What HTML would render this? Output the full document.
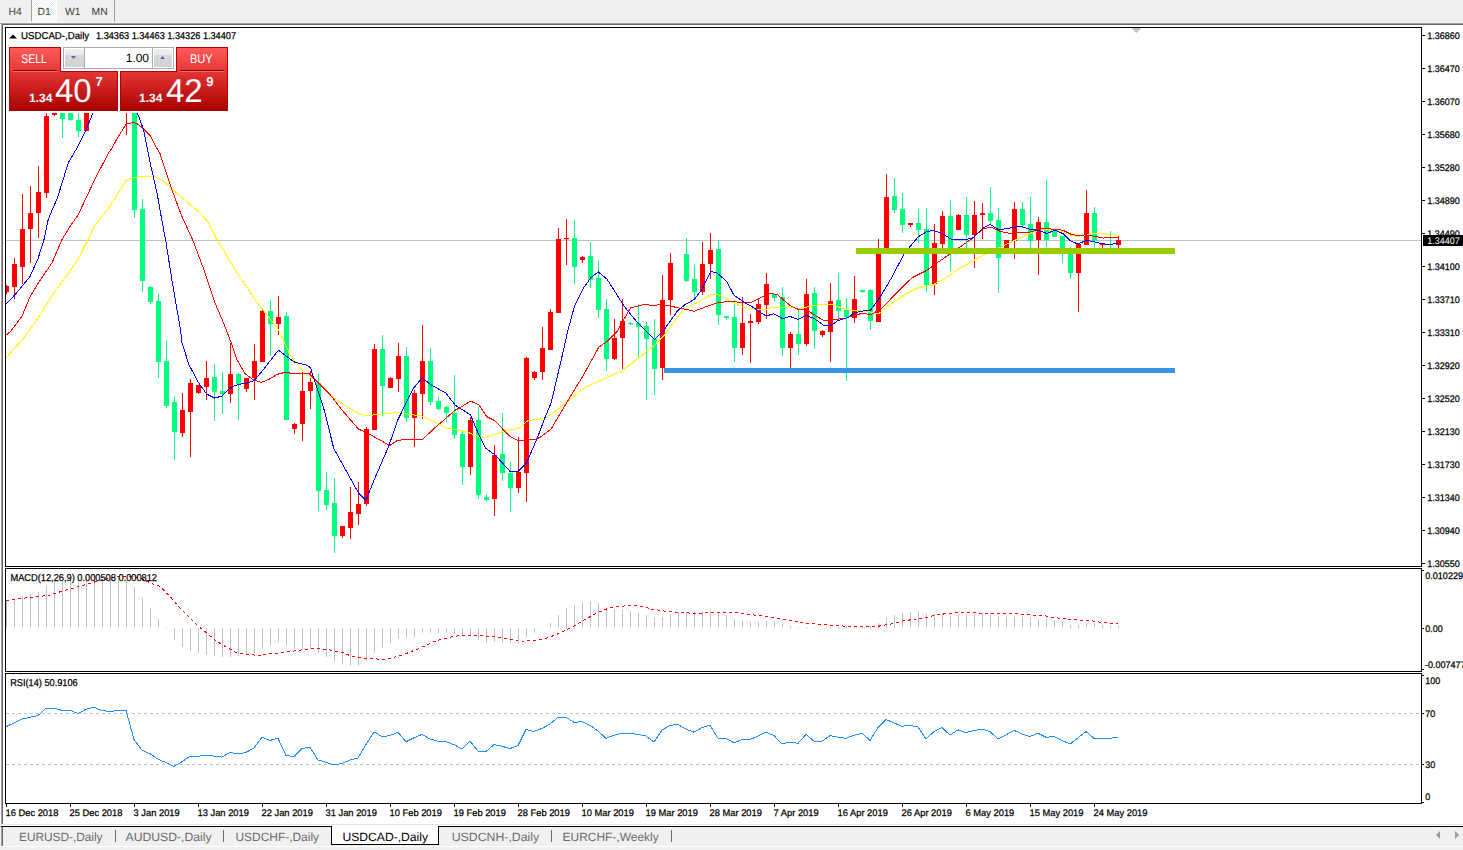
<!DOCTYPE html><html><head><meta charset="utf-8"><title>USDCAD-,Daily</title><style>
html,body{margin:0;padding:0;background:#f0f0f0;overflow:hidden;}
svg{position:absolute;left:0;top:0;display:block;}
text{font-family:"Liberation Sans",sans-serif;text-rendering:geometricPrecision;} .b{stroke:#000;stroke-width:0.25px;}
</style></head><body>
<svg width="1463" height="850" viewBox="0 0 1463 850">
<defs><linearGradient id="rg" x1="0" y1="0" x2="0" y2="1"><stop offset="0" stop-color="#ff5a5a"/><stop offset="1" stop-color="#e53636"/></linearGradient><linearGradient id="rg2" x1="0" y1="0" x2="0" y2="1"><stop offset="0" stop-color="#e43434"/><stop offset="1" stop-color="#aa0000"/></linearGradient><linearGradient id="btn" x1="0" y1="0" x2="0" y2="1"><stop offset="0" stop-color="#f0f0f0"/><stop offset="0.33" stop-color="#e8e8e8"/><stop offset="0.36" stop-color="#d9d9d9"/><stop offset="1" stop-color="#d2d2d2"/></linearGradient><pattern id="chk" x="0" y="0" width="2" height="2" patternUnits="userSpaceOnUse"><rect x="0" y="0" width="2" height="2" fill="#f0f0f0"/><rect x="0" y="0" width="1" height="1" fill="#ffffff"/><rect x="1" y="1" width="1" height="1" fill="#ffffff"/></pattern><clipPath id="cm"><rect x="6" y="28" width="1415" height="538"/></clipPath><clipPath id="cmacd"><rect x="6" y="569" width="1415" height="102"/></clipPath><clipPath id="crsi"><rect x="6" y="674" width="1415" height="129"/></clipPath></defs>
<rect x="0" y="0" width="1463" height="850" fill="#f0f0f0"/>
<rect x="32" y="0" width="25" height="22" fill="#ffffff"/>
<rect x="32" y="0" width="24" height="21" fill="url(#chk)"/>
<rect x="31" y="0" width="1" height="21" fill="#a0a0a0"/>
<rect x="114" y="0" width="1" height="23" fill="#a0a0a0"/>
<text x="8.5" y="15" font-size="10.4" fill="#404040">H4</text>
<text x="37.5" y="15" font-size="10.4" fill="#404040">D1</text>
<text x="65" y="15" font-size="10.4" fill="#404040">W1</text>
<text x="91.5" y="15" font-size="10.4" fill="#404040">MN</text>
<rect x="0" y="22" width="1463" height="1" fill="#f7f7f7"/>
<rect x="0" y="23" width="1463" height="1" fill="#a0a0a0"/>
<rect x="1" y="24" width="1462" height="1" fill="#696969"/>
<rect x="0" y="24" width="1" height="800" fill="#ffffff"/>
<rect x="1" y="23" width="1" height="801" fill="#a0a0a0"/>
<rect x="2" y="24" width="1" height="800" fill="#696969"/>
<rect x="3" y="25" width="1460" height="799" fill="#ffffff"/>
<rect x="0" y="824" width="1463" height="1" fill="#e3e3e3"/>
<rect x="0" y="825" width="1463" height="1" fill="#ffffff"/>
<rect x="1" y="826" width="1462" height="1" fill="#000000"/>
<rect x="1" y="827" width="1" height="19" fill="#a0a0a0"/>
<rect x="2" y="827" width="1" height="19" fill="#696969"/>
<rect x="0" y="846" width="1463" height="1" fill="#ffffff"/>
<rect x="5" y="27" width="1417" height="1" fill="#000"/>
<rect x="5" y="566" width="1417" height="1" fill="#000"/>
<rect x="5" y="27" width="1" height="540" fill="#000"/>
<rect x="1421" y="27" width="1" height="540" fill="#000"/>
<rect x="5" y="568" width="1417" height="1" fill="#000"/>
<rect x="5" y="671" width="1417" height="1" fill="#000"/>
<rect x="5" y="568" width="1" height="104" fill="#000"/>
<rect x="1421" y="568" width="1" height="104" fill="#000"/>
<rect x="5" y="673" width="1417" height="1" fill="#000"/>
<rect x="5" y="803" width="1417" height="1" fill="#000"/>
<rect x="5" y="673" width="1" height="131" fill="#000"/>
<rect x="1421" y="673" width="1" height="131" fill="#000"/>
<g clip-path="url(#cm)">
<rect x="6" y="240" width="1415" height="1" fill="#c0c0c0"/>
<rect x="6" y="285.0" width="1" height="9.0" fill="#ff0000"/>
<rect x="4" y="286.0" width="5" height="6.0" fill="#ff0000"/>
<rect x="14" y="258.0" width="1" height="41.0" fill="#ff0000"/>
<rect x="12" y="264.0" width="5" height="23.0" fill="#ff0000"/>
<rect x="22" y="194.0" width="1" height="90.0" fill="#ff0000"/>
<rect x="20" y="229.0" width="5" height="38.0" fill="#ff0000"/>
<rect x="30" y="186.0" width="1" height="77.0" fill="#ff0000"/>
<rect x="28" y="213.0" width="5" height="16.0" fill="#ff0000"/>
<rect x="38" y="166.0" width="1" height="72.0" fill="#ff0000"/>
<rect x="36" y="192.0" width="5" height="21.0" fill="#ff0000"/>
<rect x="46" y="100.0" width="1" height="98.0" fill="#ff0000"/>
<rect x="44" y="116.0" width="5" height="77.0" fill="#ff0000"/>
<rect x="54" y="113.0" width="1" height="3.0" fill="#ff0000"/>
<rect x="52" y="113.0" width="5" height="2.0" fill="#ff0000"/>
<rect x="62" y="90.0" width="1" height="48.0" fill="#00ff7f"/>
<rect x="60" y="95.0" width="5" height="24.0" fill="#00ff7f"/>
<rect x="70" y="90.0" width="1" height="31.0" fill="#00ff7f"/>
<rect x="68" y="95.0" width="5" height="25.0" fill="#00ff7f"/>
<rect x="78" y="90.0" width="1" height="47.0" fill="#00ff7f"/>
<rect x="76" y="120.0" width="5" height="11.0" fill="#00ff7f"/>
<rect x="86" y="90.0" width="1" height="41.0" fill="#ff0000"/>
<rect x="84" y="95.0" width="5" height="36.0" fill="#ff0000"/>
<rect x="126" y="90.0" width="1" height="45.0" fill="#ff0000"/>
<rect x="124" y="95.0" width="5" height="10.0" fill="#ff0000"/>
<rect x="134" y="90.0" width="1" height="128.0" fill="#00ff7f"/>
<rect x="132" y="95.0" width="5" height="115.0" fill="#00ff7f"/>
<rect x="142" y="199.0" width="1" height="93.0" fill="#00ff7f"/>
<rect x="140" y="209.0" width="5" height="72.0" fill="#00ff7f"/>
<rect x="150" y="286.0" width="1" height="18.0" fill="#00ff7f"/>
<rect x="148" y="287.0" width="5" height="15.0" fill="#00ff7f"/>
<rect x="158" y="294.0" width="1" height="84.0" fill="#00ff7f"/>
<rect x="156" y="301.0" width="5" height="61.0" fill="#00ff7f"/>
<rect x="166" y="340.0" width="1" height="68.0" fill="#00ff7f"/>
<rect x="164" y="361.0" width="5" height="45.0" fill="#00ff7f"/>
<rect x="174" y="396.0" width="1" height="64.0" fill="#00ff7f"/>
<rect x="172" y="402.0" width="5" height="30.0" fill="#00ff7f"/>
<rect x="182" y="393.0" width="1" height="44.0" fill="#ff0000"/>
<rect x="180" y="410.0" width="5" height="23.0" fill="#ff0000"/>
<rect x="190" y="379.0" width="1" height="78.0" fill="#ff0000"/>
<rect x="188" y="383.0" width="5" height="29.0" fill="#ff0000"/>
<rect x="198" y="385.0" width="1" height="9.0" fill="#ff0000"/>
<rect x="196" y="385.0" width="5" height="8.0" fill="#ff0000"/>
<rect x="206" y="361.0" width="1" height="39.0" fill="#ff0000"/>
<rect x="204" y="378.0" width="5" height="9.0" fill="#ff0000"/>
<rect x="214" y="364.0" width="1" height="57.0" fill="#00ff7f"/>
<rect x="212" y="377.0" width="5" height="15.0" fill="#00ff7f"/>
<rect x="222" y="372.0" width="1" height="42.0" fill="#00ff7f"/>
<rect x="220" y="391.0" width="5" height="3.0" fill="#00ff7f"/>
<rect x="230" y="343.0" width="1" height="60.0" fill="#ff0000"/>
<rect x="228" y="374.0" width="5" height="20.0" fill="#ff0000"/>
<rect x="238" y="373.0" width="1" height="47.0" fill="#00ff7f"/>
<rect x="236" y="374.0" width="5" height="10.0" fill="#00ff7f"/>
<rect x="246" y="378.0" width="1" height="14.0" fill="#ff0000"/>
<rect x="244" y="378.0" width="5" height="11.0" fill="#ff0000"/>
<rect x="254" y="344.0" width="1" height="56.0" fill="#ff0000"/>
<rect x="252" y="361.0" width="5" height="17.0" fill="#ff0000"/>
<rect x="262" y="310.0" width="1" height="52.0" fill="#ff0000"/>
<rect x="260" y="311.0" width="5" height="51.0" fill="#ff0000"/>
<rect x="270" y="300.0" width="1" height="56.0" fill="#00ff7f"/>
<rect x="268" y="311.0" width="5" height="13.0" fill="#00ff7f"/>
<rect x="278" y="296.0" width="1" height="39.0" fill="#ff0000"/>
<rect x="276" y="317.0" width="5" height="7.0" fill="#ff0000"/>
<rect x="286" y="312.0" width="1" height="108.0" fill="#00ff7f"/>
<rect x="284" y="316.0" width="5" height="104.0" fill="#00ff7f"/>
<rect x="294" y="423.0" width="1" height="11.0" fill="#ff0000"/>
<rect x="292" y="424.0" width="5" height="5.0" fill="#ff0000"/>
<rect x="302" y="372.0" width="1" height="69.0" fill="#ff0000"/>
<rect x="300" y="391.0" width="5" height="33.0" fill="#ff0000"/>
<rect x="310" y="371.0" width="1" height="38.0" fill="#ff0000"/>
<rect x="308" y="382.0" width="5" height="9.0" fill="#ff0000"/>
<rect x="318" y="374.0" width="1" height="137.0" fill="#00ff7f"/>
<rect x="316" y="383.0" width="5" height="108.0" fill="#00ff7f"/>
<rect x="326" y="472.0" width="1" height="38.0" fill="#00ff7f"/>
<rect x="324" y="490.0" width="5" height="15.0" fill="#00ff7f"/>
<rect x="334" y="478.0" width="1" height="75.0" fill="#00ff7f"/>
<rect x="332" y="503.0" width="5" height="33.0" fill="#00ff7f"/>
<rect x="342" y="526.0" width="1" height="12.0" fill="#ff0000"/>
<rect x="340" y="526.0" width="5" height="10.0" fill="#ff0000"/>
<rect x="350" y="487.0" width="1" height="52.0" fill="#ff0000"/>
<rect x="348" y="512.0" width="5" height="16.0" fill="#ff0000"/>
<rect x="358" y="482.0" width="1" height="43.0" fill="#ff0000"/>
<rect x="356" y="504.0" width="5" height="10.0" fill="#ff0000"/>
<rect x="366" y="427.0" width="1" height="79.0" fill="#ff0000"/>
<rect x="364" y="429.0" width="5" height="75.0" fill="#ff0000"/>
<rect x="374" y="344.0" width="1" height="86.0" fill="#ff0000"/>
<rect x="372" y="349.0" width="5" height="81.0" fill="#ff0000"/>
<rect x="382" y="335.0" width="1" height="81.0" fill="#00ff7f"/>
<rect x="380" y="349.0" width="5" height="37.0" fill="#00ff7f"/>
<rect x="390" y="377.0" width="1" height="11.0" fill="#ff0000"/>
<rect x="388" y="378.0" width="5" height="10.0" fill="#ff0000"/>
<rect x="398" y="343.0" width="1" height="49.0" fill="#ff0000"/>
<rect x="396" y="356.0" width="5" height="23.0" fill="#ff0000"/>
<rect x="406" y="347.0" width="1" height="75.0" fill="#00ff7f"/>
<rect x="404" y="356.0" width="5" height="62.0" fill="#00ff7f"/>
<rect x="414" y="390.0" width="1" height="57.0" fill="#ff0000"/>
<rect x="412" y="393.0" width="5" height="25.0" fill="#ff0000"/>
<rect x="422" y="325.0" width="1" height="94.0" fill="#ff0000"/>
<rect x="420" y="361.0" width="5" height="33.0" fill="#ff0000"/>
<rect x="430" y="348.0" width="1" height="57.0" fill="#00ff7f"/>
<rect x="428" y="361.0" width="5" height="41.0" fill="#00ff7f"/>
<rect x="438" y="397.0" width="1" height="13.0" fill="#00ff7f"/>
<rect x="436" y="401.0" width="5" height="8.0" fill="#00ff7f"/>
<rect x="446" y="406.0" width="1" height="16.0" fill="#00ff7f"/>
<rect x="444" y="407.0" width="5" height="6.0" fill="#00ff7f"/>
<rect x="454" y="375.0" width="1" height="64.0" fill="#00ff7f"/>
<rect x="452" y="413.0" width="5" height="22.0" fill="#00ff7f"/>
<rect x="462" y="431.0" width="1" height="54.0" fill="#00ff7f"/>
<rect x="460" y="434.0" width="5" height="33.0" fill="#00ff7f"/>
<rect x="470" y="417.0" width="1" height="58.0" fill="#ff0000"/>
<rect x="468" y="420.0" width="5" height="47.0" fill="#ff0000"/>
<rect x="478" y="407.0" width="1" height="92.0" fill="#00ff7f"/>
<rect x="476" y="420.0" width="5" height="75.0" fill="#00ff7f"/>
<rect x="486" y="494.0" width="1" height="7.0" fill="#00ff7f"/>
<rect x="484" y="497.0" width="5" height="3.0" fill="#00ff7f"/>
<rect x="494" y="445.0" width="1" height="71.0" fill="#ff0000"/>
<rect x="492" y="455.0" width="5" height="44.0" fill="#ff0000"/>
<rect x="502" y="413.0" width="1" height="68.0" fill="#00ff7f"/>
<rect x="500" y="454.0" width="5" height="19.0" fill="#00ff7f"/>
<rect x="510" y="462.0" width="1" height="50.0" fill="#00ff7f"/>
<rect x="508" y="473.0" width="5" height="15.0" fill="#00ff7f"/>
<rect x="518" y="437.0" width="1" height="56.0" fill="#ff0000"/>
<rect x="516" y="472.0" width="5" height="16.0" fill="#ff0000"/>
<rect x="526" y="357.0" width="1" height="145.0" fill="#ff0000"/>
<rect x="524" y="358.0" width="5" height="115.0" fill="#ff0000"/>
<rect x="534" y="371.0" width="1" height="9.0" fill="#ff0000"/>
<rect x="532" y="372.0" width="5" height="6.0" fill="#ff0000"/>
<rect x="542" y="327.0" width="1" height="53.0" fill="#ff0000"/>
<rect x="540" y="348.0" width="5" height="24.0" fill="#ff0000"/>
<rect x="550" y="309.0" width="1" height="41.0" fill="#ff0000"/>
<rect x="548" y="312.0" width="5" height="38.0" fill="#ff0000"/>
<rect x="558" y="228.0" width="1" height="85.0" fill="#ff0000"/>
<rect x="556" y="239.0" width="5" height="74.0" fill="#ff0000"/>
<rect x="566" y="219.0" width="1" height="46.0" fill="#ff0000"/>
<rect x="564" y="238.0" width="5" height="1.2" fill="#ff0000"/>
<rect x="574" y="220.0" width="1" height="64.0" fill="#00ff7f"/>
<rect x="572" y="238.0" width="5" height="29.0" fill="#00ff7f"/>
<rect x="582" y="256.0" width="1" height="7.0" fill="#ff0000"/>
<rect x="580" y="257.0" width="5" height="3.0" fill="#ff0000"/>
<rect x="590" y="242.0" width="1" height="46.0" fill="#00ff7f"/>
<rect x="588" y="256.0" width="5" height="24.0" fill="#00ff7f"/>
<rect x="598" y="261.0" width="1" height="57.0" fill="#00ff7f"/>
<rect x="596" y="278.0" width="5" height="32.0" fill="#00ff7f"/>
<rect x="606" y="299.0" width="1" height="72.0" fill="#00ff7f"/>
<rect x="604" y="309.0" width="5" height="50.0" fill="#00ff7f"/>
<rect x="614" y="319.0" width="1" height="41.0" fill="#ff0000"/>
<rect x="612" y="338.0" width="5" height="21.0" fill="#ff0000"/>
<rect x="622" y="299.0" width="1" height="70.0" fill="#ff0000"/>
<rect x="620" y="321.0" width="5" height="17.0" fill="#ff0000"/>
<rect x="630" y="322.0" width="1" height="3.0" fill="#00ff7f"/>
<rect x="628" y="323.0" width="5" height="1.2" fill="#00ff7f"/>
<rect x="638" y="304.0" width="1" height="54.0" fill="#00ff7f"/>
<rect x="636" y="323.0" width="5" height="4.0" fill="#00ff7f"/>
<rect x="646" y="322.0" width="1" height="78.0" fill="#00ff7f"/>
<rect x="644" y="326.0" width="5" height="13.0" fill="#00ff7f"/>
<rect x="654" y="319.0" width="1" height="76.0" fill="#00ff7f"/>
<rect x="652" y="339.0" width="5" height="30.0" fill="#00ff7f"/>
<rect x="662" y="275.0" width="1" height="105.0" fill="#ff0000"/>
<rect x="660" y="300.0" width="5" height="68.0" fill="#ff0000"/>
<rect x="670" y="253.0" width="1" height="62.0" fill="#ff0000"/>
<rect x="668" y="263.0" width="5" height="37.0" fill="#ff0000"/>
<rect x="686" y="238.0" width="1" height="44.0" fill="#00ff7f"/>
<rect x="684" y="254.0" width="5" height="27.0" fill="#00ff7f"/>
<rect x="694" y="265.0" width="1" height="34.0" fill="#00ff7f"/>
<rect x="692" y="279.0" width="5" height="13.0" fill="#00ff7f"/>
<rect x="702" y="242.0" width="1" height="53.0" fill="#ff0000"/>
<rect x="700" y="264.0" width="5" height="28.0" fill="#ff0000"/>
<rect x="710" y="233.0" width="1" height="46.0" fill="#ff0000"/>
<rect x="708" y="250.0" width="5" height="14.0" fill="#ff0000"/>
<rect x="718" y="240.0" width="1" height="85.0" fill="#00ff7f"/>
<rect x="716" y="249.0" width="5" height="66.0" fill="#00ff7f"/>
<rect x="726" y="316.0" width="1" height="4.0" fill="#00ff7f"/>
<rect x="724" y="316.0" width="5" height="2.0" fill="#00ff7f"/>
<rect x="734" y="300.0" width="1" height="62.0" fill="#00ff7f"/>
<rect x="732" y="317.0" width="5" height="31.0" fill="#00ff7f"/>
<rect x="742" y="297.0" width="1" height="58.0" fill="#ff0000"/>
<rect x="740" y="323.0" width="5" height="25.0" fill="#ff0000"/>
<rect x="750" y="314.0" width="1" height="49.0" fill="#ff0000"/>
<rect x="748" y="321.0" width="5" height="2.0" fill="#ff0000"/>
<rect x="758" y="299.0" width="1" height="25.0" fill="#ff0000"/>
<rect x="756" y="304.0" width="5" height="18.0" fill="#ff0000"/>
<rect x="766" y="273.0" width="1" height="46.0" fill="#ff0000"/>
<rect x="764" y="284.0" width="5" height="21.0" fill="#ff0000"/>
<rect x="774" y="294.0" width="1" height="7.0" fill="#00ff7f"/>
<rect x="772" y="294.0" width="5" height="4.0" fill="#00ff7f"/>
<rect x="782" y="287.0" width="1" height="69.0" fill="#00ff7f"/>
<rect x="780" y="297.0" width="5" height="51.0" fill="#00ff7f"/>
<rect x="790" y="332.0" width="1" height="36.0" fill="#ff0000"/>
<rect x="788" y="334.0" width="5" height="14.0" fill="#ff0000"/>
<rect x="798" y="309.0" width="1" height="46.0" fill="#00ff7f"/>
<rect x="796" y="334.0" width="5" height="10.0" fill="#00ff7f"/>
<rect x="806" y="279.0" width="1" height="67.0" fill="#ff0000"/>
<rect x="804" y="294.0" width="5" height="50.0" fill="#ff0000"/>
<rect x="814" y="287.0" width="1" height="62.0" fill="#00ff7f"/>
<rect x="812" y="293.0" width="5" height="38.0" fill="#00ff7f"/>
<rect x="822" y="330.0" width="1" height="7.0" fill="#ff0000"/>
<rect x="820" y="331.0" width="5" height="4.0" fill="#ff0000"/>
<rect x="830" y="283.0" width="1" height="79.0" fill="#ff0000"/>
<rect x="828" y="301.0" width="5" height="31.0" fill="#ff0000"/>
<rect x="838" y="273.0" width="1" height="46.0" fill="#00ff7f"/>
<rect x="836" y="300.0" width="5" height="11.0" fill="#00ff7f"/>
<rect x="846" y="298.0" width="1" height="83.0" fill="#00ff7f"/>
<rect x="844" y="310.0" width="5" height="7.0" fill="#00ff7f"/>
<rect x="854" y="276.0" width="1" height="47.0" fill="#ff0000"/>
<rect x="852" y="299.0" width="5" height="19.0" fill="#ff0000"/>
<rect x="862" y="290.0" width="1" height="3.0" fill="#00ff7f"/>
<rect x="860" y="290.0" width="5" height="2.0" fill="#00ff7f"/>
<rect x="870" y="289.0" width="1" height="41.0" fill="#00ff7f"/>
<rect x="868" y="290.0" width="5" height="31.0" fill="#00ff7f"/>
<rect x="878" y="239.0" width="1" height="83.0" fill="#ff0000"/>
<rect x="876" y="250.0" width="5" height="72.0" fill="#ff0000"/>
<rect x="886" y="174.0" width="1" height="76.0" fill="#ff0000"/>
<rect x="884" y="197.0" width="5" height="53.0" fill="#ff0000"/>
<rect x="894" y="178.0" width="1" height="35.0" fill="#00ff7f"/>
<rect x="892" y="196.0" width="5" height="14.0" fill="#00ff7f"/>
<rect x="902" y="193.0" width="1" height="40.0" fill="#00ff7f"/>
<rect x="900" y="209.0" width="5" height="16.0" fill="#00ff7f"/>
<rect x="910" y="223.0" width="1" height="4.0" fill="#ff0000"/>
<rect x="908" y="223.0" width="5" height="2.0" fill="#ff0000"/>
<rect x="918" y="209.0" width="1" height="34.0" fill="#00ff7f"/>
<rect x="916" y="223.0" width="5" height="7.0" fill="#00ff7f"/>
<rect x="926" y="208.0" width="1" height="84.0" fill="#00ff7f"/>
<rect x="924" y="229.0" width="5" height="56.0" fill="#00ff7f"/>
<rect x="934" y="224.0" width="1" height="71.0" fill="#ff0000"/>
<rect x="932" y="243.0" width="5" height="41.0" fill="#ff0000"/>
<rect x="942" y="211.0" width="1" height="37.0" fill="#ff0000"/>
<rect x="940" y="216.0" width="5" height="28.0" fill="#ff0000"/>
<rect x="950" y="200.0" width="1" height="71.0" fill="#00ff7f"/>
<rect x="948" y="216.0" width="5" height="34.0" fill="#00ff7f"/>
<rect x="958" y="214.0" width="1" height="16.0" fill="#ff0000"/>
<rect x="956" y="215.0" width="5" height="15.0" fill="#ff0000"/>
<rect x="966" y="197.0" width="1" height="52.0" fill="#00ff7f"/>
<rect x="964" y="215.0" width="5" height="20.0" fill="#00ff7f"/>
<rect x="974" y="201.0" width="1" height="67.0" fill="#ff0000"/>
<rect x="972" y="215.0" width="5" height="20.0" fill="#ff0000"/>
<rect x="982" y="203.0" width="1" height="36.0" fill="#ff0000"/>
<rect x="980" y="213.0" width="5" height="2.0" fill="#ff0000"/>
<rect x="990" y="187.0" width="1" height="38.0" fill="#00ff7f"/>
<rect x="988" y="213.0" width="5" height="8.0" fill="#00ff7f"/>
<rect x="998" y="208.0" width="1" height="85.0" fill="#00ff7f"/>
<rect x="996" y="220.0" width="5" height="38.0" fill="#00ff7f"/>
<rect x="1006" y="240.0" width="1" height="10.0" fill="#ff0000"/>
<rect x="1004" y="240.0" width="5" height="10.0" fill="#ff0000"/>
<rect x="1014" y="202.0" width="1" height="57.0" fill="#ff0000"/>
<rect x="1012" y="209.0" width="5" height="32.0" fill="#ff0000"/>
<rect x="1022" y="202.0" width="1" height="26.0" fill="#00ff7f"/>
<rect x="1020" y="209.0" width="5" height="16.0" fill="#00ff7f"/>
<rect x="1030" y="197.0" width="1" height="51.0" fill="#00ff7f"/>
<rect x="1028" y="224.0" width="5" height="17.0" fill="#00ff7f"/>
<rect x="1038" y="217.0" width="1" height="58.0" fill="#ff0000"/>
<rect x="1036" y="222.0" width="5" height="18.0" fill="#ff0000"/>
<rect x="1046" y="180.0" width="1" height="67.0" fill="#00ff7f"/>
<rect x="1044" y="222.0" width="5" height="18.0" fill="#00ff7f"/>
<rect x="1054" y="229.0" width="1" height="8.0" fill="#00ff7f"/>
<rect x="1052" y="229.0" width="5" height="8.0" fill="#00ff7f"/>
<rect x="1062" y="236.0" width="1" height="27.0" fill="#00ff7f"/>
<rect x="1060" y="236.0" width="5" height="14.0" fill="#00ff7f"/>
<rect x="1070" y="247.0" width="1" height="32.0" fill="#00ff7f"/>
<rect x="1068" y="250.0" width="5" height="23.0" fill="#00ff7f"/>
<rect x="1078" y="243.0" width="1" height="69.0" fill="#ff0000"/>
<rect x="1076" y="244.0" width="5" height="29.0" fill="#ff0000"/>
<rect x="1086" y="190.0" width="1" height="55.0" fill="#ff0000"/>
<rect x="1084" y="213.0" width="5" height="32.0" fill="#ff0000"/>
<rect x="1094" y="207.0" width="1" height="41.0" fill="#00ff7f"/>
<rect x="1092" y="213.0" width="5" height="28.0" fill="#00ff7f"/>
<rect x="1102" y="244.0" width="1" height="4.0" fill="#ff0000"/>
<rect x="1100" y="244.0" width="5" height="1.2" fill="#ff0000"/>
<rect x="1110" y="231.0" width="1" height="17.0" fill="#00ff7f"/>
<rect x="1108" y="244.0" width="5" height="1.2" fill="#00ff7f"/>
<rect x="1118" y="236.0" width="1" height="12.0" fill="#ff0000"/>
<rect x="1116" y="240.0" width="5" height="5.0" fill="#ff0000"/>
<g fill="none" stroke-width="1" shape-rendering="crispEdges">
<polyline points="6.0,358.0 22.0,340.0 29.0,331.0 38.0,318.0 54.0,292.9 70.0,271.0 78.0,259.4 88.0,239.6 94.0,226.6 98.4,221.0 103.0,215.0 110.7,205.5 125.8,180.9 134.0,177.5 143.5,176.1 154.5,176.8 164.0,181.6 177.7,193.9 200.0,213.0 208.0,221.8 217.6,240.6 236.7,272.4 257.2,302.5 277.7,328.5 284.6,342.8 290.0,354.7 303.7,371.8 317.3,382.0 331.0,395.7 344.7,405.3 358.4,413.5 366.6,415.8 385.7,413.5 399.4,412.1 410.3,414.8 421.2,415.5 445.8,427.8 465.0,431.2 480.0,437.3 486.8,437.2 504.6,431.0 518.3,428.3 527.8,420.8 534.7,419.4 542.9,418.7 551.1,414.6 564.8,403.7 581.8,390.0 583.9,388.0 600.3,380.5 622.2,370.9 637.2,359.0 653.6,346.3 664.6,334.7 671.0,326.0 684.6,307.7 695.5,303.6 710.6,294.8 718.8,294.8 733.8,303.0 748.9,308.4 763.9,309.8 774.8,307.1 794.0,307.7 799.4,308.4 821.3,304.3 832.3,304.3 841.8,308.4 850.0,310.2 867.8,311.5 878.7,313.6 891.0,304.0 904.7,294.4 918.4,287.6 932.0,285.3 945.7,278.0 959.4,268.5 973.0,260.9 986.7,253.4 1000.4,247.2 1014.0,240.7 1030.5,233.1 1041.4,229.7 1054.7,230.2 1062.9,232.2 1071.1,235.6 1077.9,236.3 1093.0,233.6 1103.9,233.6 1112.1,234.9 1117.6,234.3" stroke="#ffff00"/>
<polyline points="5.0,336.0 11.0,331.0 22.0,316.2 30.0,297.0 38.0,283.4 52.0,262.8 62.0,239.6 70.0,226.6 73.8,221.0 78.0,215.0 84.8,200.7 95.7,177.5 109.4,151.5 111.4,149.2 117.1,138.6 126.1,124.2 132.7,122.6 136.8,123.4 141.7,127.1 150.0,135.3 156.5,147.6 160.0,153.5 170.9,187.0 181.3,215.0 193.0,240.6 203.9,269.7 214.8,302.5 224.4,325.0 231.2,342.8 236.7,359.2 244.9,373.5 253.1,379.7 261.3,382.4 269.5,379.0 277.7,374.2 285.9,372.2 290.0,373.1 309.1,373.8 331.0,395.7 342.0,410.0 358.4,429.1 366.6,432.6 389.8,445.5 398.0,440.1 422.6,439.4 434.9,427.8 455.4,410.0 459.5,408.0 470.5,401.2 478.7,404.6 486.8,416.7 495.0,420.8 504.6,431.0 510.0,436.5 518.3,440.6 536.0,439.2 540.2,437.2 551.1,429.0 562.0,410.5 574.3,390.0 583.9,374.3 598.9,347.0 607.1,341.5 616.7,332.0 630.4,308.0 644.0,304.6 652.3,305.3 663.2,304.6 677.8,307.7 694.2,311.2 705.1,307.1 718.8,302.3 731.1,301.6 750.2,303.0 761.2,297.5 770.7,293.1 777.6,294.8 791.2,306.4 799.4,309.8 806.3,309.8 822.7,320.0 832.3,320.0 845.9,318.0 860.9,313.6 871.9,314.3 882.8,307.4 893.7,295.8 907.4,282.1 912.9,277.3 926.6,270.5 938.9,261.6 949.8,254.1 959.4,247.5 973.0,237.9 982.6,229.0 990.8,227.0 1000.4,231.4 1008.6,233.1 1027.7,232.7 1041.4,229.0 1046.5,228.5 1062.9,230.2 1071.1,234.3 1076.6,235.3 1086.1,234.9 1094.3,236.3 1103.9,238.1 1109.4,237.0 1118.3,237.0" stroke="#ff0000"/>
<polyline points="6.2,303.9 14.0,295.7 20.0,288.8 30.0,276.5 38.0,258.7 44.0,239.6 47.8,221.0 50.0,215.0 57.4,198.0 68.4,162.4 76.6,148.7 86.1,129.6 93.0,113.0 100.0,95.0 115.0,85.0 130.0,95.0 137.4,113.0 143.5,129.6 150.4,163.8 157.2,193.9 162.0,221.0 166.0,242.3 172.0,280.6 180.7,331.0 182.0,342.8 188.9,364.6 198.4,382.4 206.6,394.0 214.8,398.1 221.7,396.1 231.2,387.2 238.0,384.5 247.0,383.1 254.5,380.4 264.0,368.7 278.4,350.3 294.1,361.9 307.8,365.6 310.5,367.7 313.2,376.6 324.2,410.0 333.7,448.3 348.8,475.6 358.4,492.7 365.9,500.2 374.8,478.4 388.4,446.9 398.0,419.6 413.0,388.9 422.3,377.6 430.8,384.8 445.8,393.0 455.4,405.3 470.5,414.8 478.7,434.6 485.5,448.1 495.0,454.9 510.0,471.3 518.3,471.3 526.5,463.1 537.4,437.8 545.6,416.0 551.1,403.0 562.0,356.6 567.5,332.0 574.3,306.7 583.9,287.5 590.7,277.9 598.2,271.8 607.1,279.3 616.7,294.3 623.5,305.3 637.2,322.4 654.3,339.5 663.9,329.9 677.8,310.5 684.6,305.0 694.2,299.5 701.0,290.7 710.6,271.5 717.4,273.2 727.0,281.8 733.8,295.0 742.0,300.9 753.0,307.3 758.4,311.2 766.0,316.0 773.5,313.9 783.0,318.7 789.9,316.4 798.0,319.4 806.3,315.5 814.5,318.7 824.0,325.5 830.9,325.5 837.7,320.7 848.7,317.3 854.1,312.8 866.4,310.2 870.5,310.2 880.1,297.2 891.0,278.7 904.0,254.1 910.2,246.4 918.4,236.6 926.6,231.8 933.4,230.4 943.0,233.8 951.2,239.3 964.8,239.6 973.0,237.9 982.6,228.4 990.1,224.3 999.0,230.0 1011.3,227.7 1020.9,226.3 1030.5,229.4 1038.7,230.4 1046.9,233.5 1054.7,230.2 1062.9,233.6 1069.7,240.4 1077.9,244.1 1086.1,240.4 1094.3,241.8 1102.5,243.8 1110.7,244.5 1117.6,243.1" stroke="#0000ff"/>
</g>
<rect x="856" y="248" width="319" height="6" fill="#99cc00"/>
<rect x="664" y="368" width="511" height="5" fill="#3894e2"/>
<polygon points="1131.5,28 1141.5,28 1136.5,33" fill="#c0c0c0"/>
</g>
<polygon points="9,38.5 13,34.5 17,38.5" fill="#000"/>
<text x="21" y="39.3" font-size="10" fill="#000" class="b" textLength="68.2" lengthAdjust="spacingAndGlyphs">USDCAD-,Daily</text>
<text x="96" y="39.3" font-size="10" fill="#000" class="b" textLength="140" lengthAdjust="spacingAndGlyphs">1.34363 1.34463 1.34326 1.34407</text>
<rect x="7" y="45" width="224" height="68" fill="#ffffff"/>
<rect x="9" y="71" width="109" height="40" fill="#b00000"/>
<rect x="10" y="72" width="107" height="39" fill="url(#rg2)"/>
<rect x="120" y="71" width="108" height="40" fill="#b00000"/>
<rect x="121" y="72" width="106" height="39" fill="url(#rg2)"/>
<rect x="9" y="47" width="52" height="25" fill="#b00000"/>
<rect x="10" y="48" width="50" height="24" fill="url(#rg)"/>
<rect x="13" y="70" width="44" height="1" fill="#8a0000"/>
<rect x="13" y="71" width="44" height="1" fill="#f27070"/>
<rect x="176" y="47" width="52" height="25" fill="#b00000"/>
<rect x="177" y="48" width="50" height="24" fill="url(#rg)"/>
<rect x="180" y="70" width="44" height="1" fill="#8a0000"/>
<rect x="180" y="71" width="44" height="1" fill="#f27070"/>
<rect x="63" y="47" width="111" height="22" fill="#a8acb4"/>
<rect x="64" y="48" width="109" height="20" fill="#ffffff"/>
<rect x="65" y="49" width="19" height="18" fill="url(#btn)"/>
<rect x="84" y="48" width="1" height="20" fill="#a8acb4"/>
<rect x="152" y="48" width="1" height="20" fill="#a8acb4"/>
<rect x="154" y="49" width="18" height="18" fill="url(#btn)"/>
<polygon points="71,56 76,56 73.5,59" fill="#5068c0"/>
<polygon points="160,59 165,59 162.5,56" fill="#5068c0"/>
<text x="149" y="62" font-size="12" fill="#000" text-anchor="end">1.00</text>
<text x="21.3" y="63" font-size="12.6" fill="#ffffff" textLength="25.6" lengthAdjust="spacingAndGlyphs">SELL</text>
<text x="189.9" y="63" font-size="12.6" fill="#ffffff" textLength="22.9" lengthAdjust="spacingAndGlyphs">BUY</text>
<text x="29" y="102" font-size="12" font-weight="bold" fill="#ffffff">1.34</text>
<text x="55" y="102" font-size="33" fill="#ffffff">40</text>
<text x="95.5" y="86" font-size="13" font-weight="bold" fill="#ffffff">7</text>
<text x="139" y="102" font-size="12" font-weight="bold" fill="#ffffff">1.34</text>
<text x="166" y="102" font-size="33" fill="#ffffff">42</text>
<text x="206.3" y="86" font-size="13" font-weight="bold" fill="#ffffff">9</text>
<rect x="1422" y="35" width="3" height="1" fill="#000"/>
<text x="1427.3" y="39" font-size="9.5" fill="#000" class="b" textLength="32.5" lengthAdjust="spacingAndGlyphs">1.36860</text>
<rect x="1422" y="68" width="3" height="1" fill="#000"/>
<text x="1427.3" y="72" font-size="9.5" fill="#000" class="b" textLength="32.5" lengthAdjust="spacingAndGlyphs">1.36470</text>
<rect x="1422" y="101" width="3" height="1" fill="#000"/>
<text x="1427.3" y="105" font-size="9.5" fill="#000" class="b" textLength="32.5" lengthAdjust="spacingAndGlyphs">1.36070</text>
<rect x="1422" y="134" width="3" height="1" fill="#000"/>
<text x="1427.3" y="138" font-size="9.5" fill="#000" class="b" textLength="32.5" lengthAdjust="spacingAndGlyphs">1.35680</text>
<rect x="1422" y="167" width="3" height="1" fill="#000"/>
<text x="1427.3" y="171" font-size="9.5" fill="#000" class="b" textLength="32.5" lengthAdjust="spacingAndGlyphs">1.35280</text>
<rect x="1422" y="200" width="3" height="1" fill="#000"/>
<text x="1427.3" y="204" font-size="9.5" fill="#000" class="b" textLength="32.5" lengthAdjust="spacingAndGlyphs">1.34890</text>
<rect x="1422" y="233" width="3" height="1" fill="#000"/>
<text x="1427.3" y="237" font-size="9.5" fill="#000" class="b" textLength="32.5" lengthAdjust="spacingAndGlyphs">1.34490</text>
<rect x="1422" y="266" width="3" height="1" fill="#000"/>
<text x="1427.3" y="270" font-size="9.5" fill="#000" class="b" textLength="32.5" lengthAdjust="spacingAndGlyphs">1.34100</text>
<rect x="1422" y="299" width="3" height="1" fill="#000"/>
<text x="1427.3" y="303" font-size="9.5" fill="#000" class="b" textLength="32.5" lengthAdjust="spacingAndGlyphs">1.33710</text>
<rect x="1422" y="332" width="3" height="1" fill="#000"/>
<text x="1427.3" y="336" font-size="9.5" fill="#000" class="b" textLength="32.5" lengthAdjust="spacingAndGlyphs">1.33310</text>
<rect x="1422" y="365" width="3" height="1" fill="#000"/>
<text x="1427.3" y="369" font-size="9.5" fill="#000" class="b" textLength="32.5" lengthAdjust="spacingAndGlyphs">1.32920</text>
<rect x="1422" y="398" width="3" height="1" fill="#000"/>
<text x="1427.3" y="402" font-size="9.5" fill="#000" class="b" textLength="32.5" lengthAdjust="spacingAndGlyphs">1.32520</text>
<rect x="1422" y="431" width="3" height="1" fill="#000"/>
<text x="1427.3" y="435" font-size="9.5" fill="#000" class="b" textLength="32.5" lengthAdjust="spacingAndGlyphs">1.32130</text>
<rect x="1422" y="464" width="3" height="1" fill="#000"/>
<text x="1427.3" y="468" font-size="9.5" fill="#000" class="b" textLength="32.5" lengthAdjust="spacingAndGlyphs">1.31730</text>
<rect x="1422" y="497" width="3" height="1" fill="#000"/>
<text x="1427.3" y="501" font-size="9.5" fill="#000" class="b" textLength="32.5" lengthAdjust="spacingAndGlyphs">1.31340</text>
<rect x="1422" y="530" width="3" height="1" fill="#000"/>
<text x="1427.3" y="534" font-size="9.5" fill="#000" class="b" textLength="32.5" lengthAdjust="spacingAndGlyphs">1.30940</text>
<rect x="1422" y="563" width="3" height="1" fill="#000"/>
<text x="1427.3" y="567" font-size="9.5" fill="#000" class="b" textLength="32.5" lengthAdjust="spacingAndGlyphs">1.30550</text>
<rect x="1423" y="235" width="40" height="11" fill="#000"/>
<text x="1427.3" y="244.2" font-size="9.5" fill="#fff" textLength="32.5" lengthAdjust="spacingAndGlyphs">1.34407</text>
<g clip-path="url(#cmacd)">
<g fill="#c0c0c0">
<rect x="6" y="600.5" width="1" height="28.0"/>
<rect x="14" y="600.1" width="1" height="28.4"/>
<rect x="22" y="597.0" width="1" height="31.5"/>
<rect x="30" y="594.0" width="1" height="34.5"/>
<rect x="38" y="591.9" width="1" height="36.6"/>
<rect x="46" y="586.0" width="1" height="42.5"/>
<rect x="54" y="581.3" width="1" height="47.2"/>
<rect x="62" y="580.7" width="1" height="47.8"/>
<rect x="70" y="579.5" width="1" height="49.0"/>
<rect x="78" y="577.8" width="1" height="50.7"/>
<rect x="86" y="577.8" width="1" height="50.7"/>
<rect x="94" y="577.0" width="1" height="51.5"/>
<rect x="102" y="577.0" width="1" height="51.5"/>
<rect x="110" y="577.0" width="1" height="51.5"/>
<rect x="118" y="577.0" width="1" height="51.5"/>
<rect x="126" y="579.9" width="1" height="48.6"/>
<rect x="134" y="587.1" width="1" height="41.4"/>
<rect x="142" y="597.9" width="1" height="30.6"/>
<rect x="150" y="608.2" width="1" height="20.3"/>
<rect x="158" y="618.9" width="1" height="9.6"/>
<rect x="166" y="627.8" width="1" height="0.7"/>
<rect x="174" y="628" width="1" height="11.8"/>
<rect x="182" y="628" width="1" height="19.0"/>
<rect x="190" y="628" width="1" height="22.9"/>
<rect x="198" y="628" width="1" height="24.9"/>
<rect x="206" y="628" width="1" height="26.6"/>
<rect x="214" y="628" width="1" height="28.0"/>
<rect x="222" y="628" width="1" height="28.9"/>
<rect x="230" y="628" width="1" height="28.9"/>
<rect x="238" y="628" width="1" height="28.0"/>
<rect x="246" y="628" width="1" height="26.3"/>
<rect x="254" y="628" width="1" height="25.4"/>
<rect x="262" y="628" width="1" height="20.7"/>
<rect x="270" y="628" width="1" height="17.8"/>
<rect x="278" y="628" width="1" height="14.3"/>
<rect x="286" y="628" width="1" height="17.8"/>
<rect x="294" y="628" width="1" height="20.7"/>
<rect x="302" y="628" width="1" height="20.7"/>
<rect x="310" y="628" width="1" height="20.3"/>
<rect x="318" y="628" width="1" height="24.6"/>
<rect x="326" y="628" width="1" height="28.9"/>
<rect x="334" y="628" width="1" height="33.6"/>
<rect x="342" y="628" width="1" height="36.5"/>
<rect x="350" y="628" width="1" height="37.7"/>
<rect x="358" y="628" width="1" height="37.7"/>
<rect x="366" y="628" width="1" height="32.6"/>
<rect x="374" y="628" width="1" height="24.6"/>
<rect x="382" y="628" width="1" height="19.5"/>
<rect x="390" y="628" width="1" height="15.5"/>
<rect x="398" y="628" width="1" height="10.4"/>
<rect x="406" y="628" width="1" height="9.7"/>
<rect x="414" y="628" width="1" height="8.7"/>
<rect x="422" y="628" width="1" height="4.6"/>
<rect x="430" y="628" width="1" height="4.6"/>
<rect x="438" y="628" width="1" height="4.6"/>
<rect x="446" y="628" width="1" height="4.6"/>
<rect x="454" y="628" width="1" height="5.8"/>
<rect x="462" y="628" width="1" height="7.0"/>
<rect x="470" y="628" width="1" height="7.0"/>
<rect x="478" y="628" width="1" height="11.8"/>
<rect x="486" y="628" width="1" height="14.8"/>
<rect x="494" y="628" width="1" height="13.8"/>
<rect x="502" y="628" width="1" height="14.8"/>
<rect x="510" y="628" width="1" height="15.5"/>
<rect x="518" y="628" width="1" height="15.5"/>
<rect x="526" y="628" width="1" height="8.7"/>
<rect x="534" y="628" width="1" height="4.6"/>
<rect x="542" y="628" width="1" height="0.2"/>
<rect x="550" y="623.0" width="1" height="5.5"/>
<rect x="558" y="615.0" width="1" height="13.5"/>
<rect x="566" y="608.2" width="1" height="20.3"/>
<rect x="574" y="605.3" width="1" height="23.2"/>
<rect x="582" y="602.2" width="1" height="26.3"/>
<rect x="590" y="601.3" width="1" height="27.2"/>
<rect x="598" y="603.0" width="1" height="25.5"/>
<rect x="606" y="607.0" width="1" height="21.5"/>
<rect x="614" y="609.0" width="1" height="19.5"/>
<rect x="622" y="609.9" width="1" height="18.6"/>
<rect x="630" y="611.1" width="1" height="17.4"/>
<rect x="638" y="613.0" width="1" height="15.5"/>
<rect x="646" y="615.0" width="1" height="13.5"/>
<rect x="654" y="617.9" width="1" height="10.6"/>
<rect x="662" y="617.0" width="1" height="11.5"/>
<rect x="670" y="614.1" width="1" height="14.4"/>
<rect x="678" y="612.8" width="1" height="15.7"/>
<rect x="686" y="611.6" width="1" height="16.9"/>
<rect x="694" y="612.1" width="1" height="16.4"/>
<rect x="702" y="611.1" width="1" height="17.4"/>
<rect x="710" y="609.9" width="1" height="18.6"/>
<rect x="718" y="613.3" width="1" height="15.2"/>
<rect x="726" y="615.0" width="1" height="13.5"/>
<rect x="734" y="618.9" width="1" height="9.6"/>
<rect x="742" y="621.0" width="1" height="7.5"/>
<rect x="750" y="621.8" width="1" height="6.7"/>
<rect x="758" y="621.8" width="1" height="6.7"/>
<rect x="766" y="621.0" width="1" height="7.5"/>
<rect x="774" y="621.8" width="1" height="6.7"/>
<rect x="782" y="624.0" width="1" height="4.5"/>
<rect x="790" y="626.1" width="1" height="2.4"/>
<rect x="798" y="627.8" width="1" height="0.7"/>
<rect x="806" y="627.0" width="1" height="1.5"/>
<rect x="814" y="627.8" width="1" height="0.7"/>
<rect x="822" y="627.8" width="1" height="0.7"/>
<rect x="830" y="627.0" width="1" height="1.5"/>
<rect x="838" y="627.0" width="1" height="1.5"/>
<rect x="846" y="626.1" width="1" height="2.4"/>
<rect x="854" y="626.4" width="1" height="2.1"/>
<rect x="862" y="626.1" width="1" height="2.4"/>
<rect x="870" y="626.1" width="1" height="2.4"/>
<rect x="878" y="623.0" width="1" height="5.5"/>
<rect x="886" y="617.9" width="1" height="10.6"/>
<rect x="894" y="615.0" width="1" height="13.5"/>
<rect x="902" y="612.8" width="1" height="15.7"/>
<rect x="910" y="612.1" width="1" height="16.4"/>
<rect x="918" y="611.1" width="1" height="17.4"/>
<rect x="926" y="613.8" width="1" height="14.7"/>
<rect x="934" y="613.8" width="1" height="14.7"/>
<rect x="942" y="613.3" width="1" height="15.2"/>
<rect x="950" y="614.5" width="1" height="14.0"/>
<rect x="958" y="613.8" width="1" height="14.7"/>
<rect x="966" y="613.8" width="1" height="14.7"/>
<rect x="974" y="613.8" width="1" height="14.7"/>
<rect x="982" y="613.3" width="1" height="15.2"/>
<rect x="990" y="613.3" width="1" height="15.2"/>
<rect x="998" y="616.2" width="1" height="12.3"/>
<rect x="1006" y="616.7" width="1" height="11.8"/>
<rect x="1014" y="616.7" width="1" height="11.8"/>
<rect x="1022" y="616.7" width="1" height="11.8"/>
<rect x="1030" y="617.9" width="1" height="10.6"/>
<rect x="1038" y="618.9" width="1" height="9.6"/>
<rect x="1046" y="619.6" width="1" height="8.9"/>
<rect x="1054" y="621.0" width="1" height="7.5"/>
<rect x="1062" y="621.8" width="1" height="6.7"/>
<rect x="1070" y="624.7" width="1" height="3.8"/>
<rect x="1078" y="624.7" width="1" height="3.8"/>
<rect x="1086" y="623.5" width="1" height="5.0"/>
<rect x="1094" y="623.5" width="1" height="5.0"/>
<rect x="1102" y="624.7" width="1" height="3.8"/>
<rect x="1110" y="625.8" width="1" height="2.7"/>
<rect x="1118" y="625.8" width="1" height="2.7"/>
</g>
<polyline points="6.0,600.5 17.0,598.8 30.0,597.5 49.0,595.3 61.5,591.4 78.8,586.5 98.4,580.9 117.0,576.6 128.0,576.0 140.0,577.8 150.0,582.8 160.0,586.5 171.0,597.5 179.4,607.3 198.2,626.1 217.0,641.5 235.8,652.6 240.0,653.1 257.1,655.5 274.2,653.4 291.3,651.4 313.5,648.3 328.9,649.7 342.5,652.6 351.1,656.0 368.2,658.6 385.2,659.4 402.3,655.1 419.4,648.3 436.5,640.6 453.6,636.4 462.1,635.5 480.0,635.5 497.1,637.2 505.6,638.4 522.7,641.1 531.3,640.6 544.9,638.9 556.9,634.3 568.9,628.7 582.5,621.0 596.2,613.3 609.9,607.6 630.4,605.3 642.3,606.4 650.9,609.0 668.0,611.6 693.6,613.3 720.0,612.4 737.1,612.8 754.2,615.0 774.7,617.6 791.8,621.0 805.4,623.0 826.0,624.7 848.2,626.4 877.2,626.4 894.3,623.5 901.1,621.3 925.1,617.6 938.7,614.5 959.2,612.4 977.1,612.8 980.5,613.5 1011.3,613.5 1024.9,614.5 1045.4,615.8 1050.6,617.2 1065.9,618.9 1096.7,621.3 1101.8,622.7 1118.1,623.5" fill="none" stroke="#ff0000" stroke-width="1" stroke-dasharray="3,3" shape-rendering="crispEdges"/>
</g>
<text x="10.5" y="580.8" font-size="10" fill="#000" class="b" textLength="146.5" lengthAdjust="spacingAndGlyphs">MACD(12,26,9) 0.000508 0.000812</text>
<rect x="1422" y="570" width="2" height="1" fill="#000"/>
<text transform="translate(1425.3 579) scale(0.95 1)" font-size="9.5" fill="#000" class="b">0.010229</text>
<rect x="1422" y="628" width="2" height="1" fill="#000"/>
<text transform="translate(1425.3 632) scale(0.95 1)" font-size="9.5" fill="#000" class="b">0.00</text>
<rect x="1422" y="669" width="2" height="1" fill="#000"/>
<text transform="translate(1425 668) scale(0.95 1)" font-size="9.5" fill="#000" class="b">-0.007477</text>
<g clip-path="url(#crsi)">
<rect x="6" y="713" width="1415" height="1" fill="none"/>
<line x1="6" y1="713.5" x2="1421" y2="713.5" stroke="#c0c0c0" stroke-dasharray="3,3"/>
<line x1="6" y1="764.5" x2="1421" y2="764.5" stroke="#c0c0c0" stroke-dasharray="3,3"/>
<polyline points="6.0,726.7 14.0,722.9 22.0,719.0 30.0,717.3 38.0,715.6 46.0,708.2 54.0,708.2 62.0,710.4 70.0,710.4 78.0,713.4 86.0,709.3 94.0,707.4 102.0,710.4 110.0,711.6 118.0,710.4 126.0,710.4 134.0,739.5 142.0,750.3 150.0,753.7 158.0,759.2 166.0,762.6 174.0,766.3 182.0,761.7 190.0,756.2 198.0,756.2 206.0,755.4 214.0,756.1 222.0,757.1 230.0,752.3 238.0,754.0 246.0,752.3 254.0,748.0 262.0,737.3 270.0,740.4 278.0,738.3 286.0,755.4 294.0,756.6 302.0,748.6 310.0,747.2 318.0,760.0 326.0,762.2 334.0,765.1 342.0,763.4 350.0,760.0 358.0,758.0 366.0,744.6 374.0,731.8 382.0,736.6 390.0,735.6 398.0,732.2 406.0,741.7 414.0,737.8 422.0,734.4 430.0,739.0 438.0,741.2 446.0,741.7 454.0,744.6 462.0,749.2 470.0,741.2 478.0,751.0 486.0,751.5 494.0,744.6 502.0,746.3 510.0,748.6 518.0,745.5 526.0,729.6 534.0,731.5 542.0,728.4 550.0,724.1 558.0,717.3 566.0,717.3 574.0,722.4 582.0,721.6 590.0,725.3 598.0,731.0 606.0,738.3 614.0,735.2 622.0,733.2 630.0,733.2 638.0,734.4 646.0,736.1 654.0,742.1 662.0,730.1 670.0,725.3 678.0,724.6 686.0,729.2 694.0,732.2 702.0,727.5 710.0,725.3 718.0,738.3 726.0,738.3 734.0,742.9 742.0,739.5 750.0,739.5 758.0,736.1 766.0,732.2 774.0,735.6 782.0,744.1 790.0,742.1 798.0,743.4 806.0,734.4 814.0,741.2 822.0,741.2 830.0,735.6 838.0,737.3 846.0,738.3 854.0,735.2 862.0,733.2 870.0,740.4 878.0,727.5 886.0,719.5 894.0,722.9 902.0,726.3 910.0,725.3 918.0,727.0 926.0,739.0 934.0,731.5 942.0,727.5 950.0,735.2 958.0,729.8 966.0,732.7 974.0,730.4 982.0,729.2 990.0,731.5 998.0,739.0 1006.0,734.9 1014.0,730.4 1022.0,733.9 1030.0,736.6 1038.0,733.2 1046.0,737.3 1054.0,736.6 1062.0,740.4 1070.0,744.1 1078.0,737.8 1086.0,731.5 1094.0,738.3 1102.0,738.3 1110.0,738.3 1118.0,737.3" fill="none" stroke="#1e90ff" stroke-width="1" shape-rendering="crispEdges"/>
</g>
<text x="10.2" y="685.8" font-size="10" fill="#000" class="b" textLength="67.5" lengthAdjust="spacingAndGlyphs">RSI(14) 50.9106</text>
<rect x="1422" y="675" width="2" height="1" fill="#000"/>
<text transform="translate(1425.3 684) scale(0.95 1)" font-size="9.5" fill="#000" class="b">100</text>
<rect x="1422" y="713" width="2" height="1" fill="#000"/>
<text transform="translate(1425.3 717) scale(0.95 1)" font-size="9.5" fill="#000" class="b">70</text>
<rect x="1422" y="764" width="2" height="1" fill="#000"/>
<text transform="translate(1425.3 768) scale(0.95 1)" font-size="9.5" fill="#000" class="b">30</text>
<rect x="1422" y="802" width="2" height="1" fill="#000"/>
<text transform="translate(1425.3 800) scale(0.95 1)" font-size="9.5" fill="#000" class="b">0</text>
<rect x="6" y="804" width="1" height="3" fill="#000"/>
<text transform="translate(5.6 816) scale(0.98 1)" font-size="9.5" fill="#000" class="b">16 Dec 2018</text>
<rect x="70" y="804" width="1" height="3" fill="#000"/>
<text transform="translate(69.6 816) scale(0.98 1)" font-size="9.5" fill="#000" class="b">25 Dec 2018</text>
<rect x="134" y="804" width="1" height="3" fill="#000"/>
<text transform="translate(133.6 816) scale(0.98 1)" font-size="9.5" fill="#000" class="b">3 Jan 2019</text>
<rect x="198" y="804" width="1" height="3" fill="#000"/>
<text transform="translate(197.6 816) scale(0.98 1)" font-size="9.5" fill="#000" class="b">13 Jan 2019</text>
<rect x="262" y="804" width="1" height="3" fill="#000"/>
<text transform="translate(261.6 816) scale(0.98 1)" font-size="9.5" fill="#000" class="b">22 Jan 2019</text>
<rect x="326" y="804" width="1" height="3" fill="#000"/>
<text transform="translate(325.6 816) scale(0.98 1)" font-size="9.5" fill="#000" class="b">31 Jan 2019</text>
<rect x="390" y="804" width="1" height="3" fill="#000"/>
<text transform="translate(389.6 816) scale(0.98 1)" font-size="9.5" fill="#000" class="b">10 Feb 2019</text>
<rect x="454" y="804" width="1" height="3" fill="#000"/>
<text transform="translate(453.6 816) scale(0.98 1)" font-size="9.5" fill="#000" class="b">19 Feb 2019</text>
<rect x="518" y="804" width="1" height="3" fill="#000"/>
<text transform="translate(517.6 816) scale(0.98 1)" font-size="9.5" fill="#000" class="b">28 Feb 2019</text>
<rect x="582" y="804" width="1" height="3" fill="#000"/>
<text transform="translate(581.6 816) scale(0.98 1)" font-size="9.5" fill="#000" class="b">10 Mar 2019</text>
<rect x="646" y="804" width="1" height="3" fill="#000"/>
<text transform="translate(645.6 816) scale(0.98 1)" font-size="9.5" fill="#000" class="b">19 Mar 2019</text>
<rect x="710" y="804" width="1" height="3" fill="#000"/>
<text transform="translate(709.6 816) scale(0.98 1)" font-size="9.5" fill="#000" class="b">28 Mar 2019</text>
<rect x="774" y="804" width="1" height="3" fill="#000"/>
<text transform="translate(773.6 816) scale(0.98 1)" font-size="9.5" fill="#000" class="b">7 Apr 2019</text>
<rect x="838" y="804" width="1" height="3" fill="#000"/>
<text transform="translate(837.6 816) scale(0.98 1)" font-size="9.5" fill="#000" class="b">16 Apr 2019</text>
<rect x="902" y="804" width="1" height="3" fill="#000"/>
<text transform="translate(901.6 816) scale(0.98 1)" font-size="9.5" fill="#000" class="b">26 Apr 2019</text>
<rect x="966" y="804" width="1" height="3" fill="#000"/>
<text transform="translate(965.6 816) scale(0.98 1)" font-size="9.5" fill="#000" class="b">6 May 2019</text>
<rect x="1030" y="804" width="1" height="3" fill="#000"/>
<text transform="translate(1029.6 816) scale(0.98 1)" font-size="9.5" fill="#000" class="b">15 May 2019</text>
<rect x="1094" y="804" width="1" height="3" fill="#000"/>
<text transform="translate(1093.6 816) scale(0.98 1)" font-size="9.5" fill="#000" class="b">24 May 2019</text>
<rect x="331" y="826" width="108" height="19" fill="#000"/>
<rect x="332" y="826" width="106" height="18" fill="#fff"/>
<text x="19" y="841" font-size="12" fill="#6d6d6d" textLength="83.5" lengthAdjust="spacingAndGlyphs">EURUSD-,Daily</text>
<text x="125.5" y="841" font-size="12" fill="#6d6d6d" textLength="86.0" lengthAdjust="spacingAndGlyphs">AUDUSD-,Daily</text>
<text x="235.5" y="841" font-size="12" fill="#6d6d6d" textLength="83.5" lengthAdjust="spacingAndGlyphs">USDCHF-,Daily</text>
<text x="342.5" y="841" font-size="12" fill="#000" textLength="85.5" lengthAdjust="spacingAndGlyphs">USDCAD-,Daily</text>
<text x="451.7" y="841" font-size="12" fill="#6d6d6d" textLength="87.5" lengthAdjust="spacingAndGlyphs">USDCNH-,Daily</text>
<text x="562.5" y="841" font-size="12" fill="#6d6d6d" textLength="96.2" lengthAdjust="spacingAndGlyphs">EURCHF-,Weekly</text>
<rect x="115" y="830" width="1" height="12" fill="#6d6d6d"/>
<rect x="223" y="830" width="1" height="12" fill="#6d6d6d"/>
<rect x="551" y="830" width="1" height="12" fill="#6d6d6d"/>
<rect x="671" y="830" width="1" height="12" fill="#6d6d6d"/>
<polygon points="1440,831 1440,839 1436,835" fill="#999"/>
<polygon points="1455,831 1455,839 1459,835" fill="#999"/>
</svg></body></html>
